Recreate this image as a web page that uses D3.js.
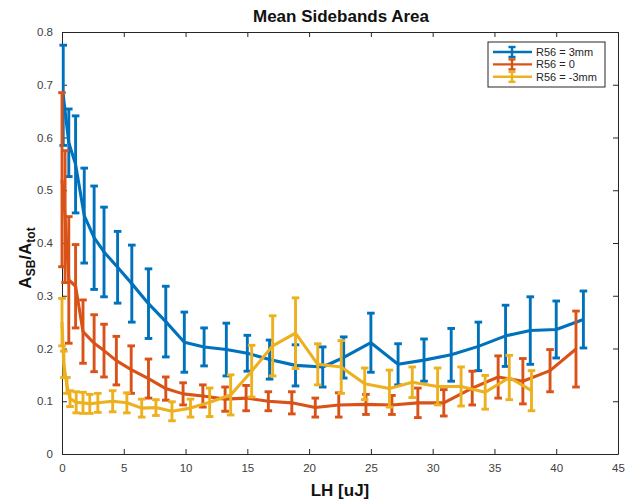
<!DOCTYPE html>
<html><head><meta charset="utf-8">
<script src="https://cdn.jsdelivr.net/npm/d3@7"></script>
<style>
html,body{margin:0;padding:0;background:#fff;}
svg{display:block;font-family:"Liberation Sans",Arial,Helvetica,sans-serif;}
</style></head>
<body>
<svg id="chart" width="626" height="502"></svg>
<script>
const xTicks = [0,5,10,15,20,25,30,35,40,45];
const yTicks = [0,0.1,0.2,0.3,0.4,0.5,0.6,0.7,0.8];
const seriesNames = ["R56 = 3mm","R56 = 0","R56 = -3mm"];
const seriesColors = ["#0072BD","#D95319","#EDB120"];

const blueX = [0.1,0.55,1.1,1.8,2.6,3.4,4.5,5.65,7.0,8.4,9.9,11.5,13.3,15.0,16.8,18.9,21.1,22.8,25.0,27.2,29.3,31.5,33.7,35.9,37.9,40.0,42.2];
const blueY = [0.68,0.59,0.549,0.452,0.41,0.383,0.354,0.323,0.285,0.251,0.212,0.203,0.198,0.191,0.179,0.168,0.165,0.183,0.211,0.17,0.178,0.188,0.204,0.224,0.234,0.236,0.255];
const blueErr = [0.095,0.064,0.092,0.09,0.098,0.085,0.068,0.073,0.066,0.067,0.057,0.036,0.05,0.034,0.037,0.039,0.038,0.039,0.056,0.039,0.04,0.05,0.046,0.058,0.064,0.054,0.054];

const orangeX = [0.0,0.25,0.55,1.1,1.7,2.6,3.4,4.4,5.6,7.0,8.4,9.8,11.4,13.2,14.9,16.7,18.6,20.5,22.4,24.6,26.7,28.8,30.9,33.2,35.3,37.3,39.5,41.6];
const orangeY = [0.52,0.45,0.33,0.318,0.232,0.21,0.196,0.177,0.16,0.143,0.124,0.114,0.11,0.104,0.106,0.1,0.097,0.088,0.093,0.094,0.093,0.097,0.097,0.125,0.146,0.138,0.158,0.199];
const orangeErr = [0.165,0.125,0.12,0.079,0.06,0.054,0.05,0.046,0.045,0.037,0.022,0.021,0.021,0.023,0.024,0.018,0.021,0.018,0.023,0.019,0.018,0.028,0.025,0.032,0.04,0.043,0.04,0.072];

const yellowX = [0.0,0.15,0.4,0.65,1.15,1.7,2.25,2.9,4.1,5.25,6.45,7.6,8.9,10.4,11.95,13.65,15.35,17.05,18.9,20.7,22.6,24.5,26.5,28.35,30.4,32.3,34.25,36.2,38.0];
const yellowY = [0.25,0.17,0.13,0.105,0.098,0.097,0.095,0.097,0.1,0.097,0.087,0.088,0.081,0.087,0.098,0.112,0.157,0.205,0.229,0.17,0.165,0.133,0.124,0.136,0.128,0.128,0.117,0.145,0.12];
const yellowErr = [0.045,0.025,0.015,0.015,0.02,0.02,0.018,0.018,0.02,0.019,0.017,0.015,0.018,0.017,0.027,0.038,0.049,0.057,0.067,0.039,0.05,0.03,0.035,0.029,0.035,0.037,0.032,0.042,0.038];

const svg = d3.select("#chart");
const L = 62, R = 618, T = 32, B = 454;
const x = d3.scaleLinear().domain([0,45]).range([L,R]);
const y = d3.scaleLinear().domain([0,0.8]).range([B,T]);
const axisColor = "#262626";

// axes
const gx = svg.append("g").attr("transform",`translate(0,${B})`)
  .call(d3.axisBottom(x).tickValues(xTicks).tickFormat(d3.format("d")).tickSizeInner(-5).tickSizeOuter(0).tickPadding(10));
const gxt = svg.append("g").attr("transform",`translate(0,${T})`)
  .call(d3.axisTop(x).tickValues(xTicks).tickFormat("").tickSizeInner(-5).tickSizeOuter(0));
const gy = svg.append("g").attr("transform",`translate(${L},0)`)
  .call(d3.axisLeft(y).tickValues(yTicks).tickFormat(d => d===0?"0":d3.format(".1f")(d)).tickSizeInner(-5).tickSizeOuter(0).tickPadding(9));
const gyr = svg.append("g").attr("transform",`translate(${R},0)`)
  .call(d3.axisRight(y).tickValues(yTicks).tickFormat("").tickSizeInner(-5).tickSizeOuter(0));
[gx,gxt,gy,gyr].forEach(g=>{
  g.selectAll("path").attr("stroke",axisColor).attr("stroke-width",1);
  g.selectAll("line").attr("stroke",axisColor).attr("stroke-width",1);
  g.selectAll("text").attr("fill","#404040").attr("font-size","11.5px").attr("font-family","'Liberation Sans',Arial,sans-serif");
});

// series
const series = [
  {xs:blueX, ys:blueY, es:blueErr},
  {xs:orangeX, ys:orangeY, es:orangeErr},
  {xs:yellowX, ys:yellowY, es:yellowErr}
];
const line = d3.line().x(d=>x(d.x)).y(d=>y(d.y));
const cap = 3.8;
series.forEach((s,i)=>{
  const pts = s.xs.map((v,j)=>({x:v,y:s.ys[j],e:s.es[j]}));
  const g = svg.append("g").attr("stroke",seriesColors[i]).attr("fill","none").attr("stroke-width",2.9);
  g.append("path").datum(pts).attr("d",line).attr("stroke-linejoin","round").attr("stroke-width",3.1);
  const eb = g.selectAll("g.eb").data(pts).enter().append("g");
  eb.append("line").attr("x1",d=>x(d.x)).attr("x2",d=>x(d.x)).attr("y1",d=>y(d.y-d.e)).attr("y2",d=>y(d.y+d.e));
  eb.append("line").attr("x1",d=>x(d.x)-cap).attr("x2",d=>x(d.x)+cap).attr("y1",d=>y(d.y+d.e)).attr("y2",d=>y(d.y+d.e));
  eb.append("line").attr("x1",d=>x(d.x)-cap).attr("x2",d=>x(d.x)+cap).attr("y1",d=>y(d.y-d.e)).attr("y2",d=>y(d.y-d.e));
});

// title and labels
svg.append("text").attr("x",341).attr("y",22).attr("text-anchor","middle")
  .attr("font-weight","bold").attr("font-size","17px").attr("fill","#111").text("Mean Sidebands Area");
svg.append("text").attr("x",340).attr("y",496).attr("text-anchor","middle")
  .attr("font-weight","bold").attr("font-size","17px").attr("fill","#111").text("LH [uJ]");
const yl = svg.append("text").attr("transform","translate(31,258) rotate(-90)").attr("text-anchor","middle")
  .attr("font-weight","bold").attr("font-size","17px").attr("fill","#111");
yl.append("tspan").text("A");
yl.append("tspan").attr("font-size","12px").attr("dy",4).text("SB");
yl.append("tspan").attr("dy",-4).text("/A");
yl.append("tspan").attr("font-size","12px").attr("dy",4).text("tot");

// legend
const lg = svg.append("g");
lg.append("rect").attr("x",488).attr("y",42).attr("width",117).attr("height",45)
  .attr("fill","#fff").attr("stroke",axisColor).attr("stroke-width",1);
seriesNames.forEach((n,i)=>{
  const yy = 52 + i*12.4;
  const c = seriesColors[i];
  lg.append("line").attr("x1",493).attr("x2",532).attr("y1",yy).attr("y2",yy).attr("stroke",c).attr("stroke-width",2.4);
  lg.append("line").attr("x1",512).attr("x2",512).attr("y1",yy-5).attr("y2",yy+5).attr("stroke",c).attr("stroke-width",2.4);
  lg.append("line").attr("x1",508.5).attr("x2",515.5).attr("y1",yy-5).attr("y2",yy-5).attr("stroke",c).attr("stroke-width",2.4);
  lg.append("line").attr("x1",508.5).attr("x2",515.5).attr("y1",yy+5).attr("y2",yy+5).attr("stroke",c).attr("stroke-width",2.4);
  lg.append("text").attr("x",536).attr("y",yy+4).attr("font-size","11px").attr("fill","#262626").text(n);
});
</script>
</body></html>
